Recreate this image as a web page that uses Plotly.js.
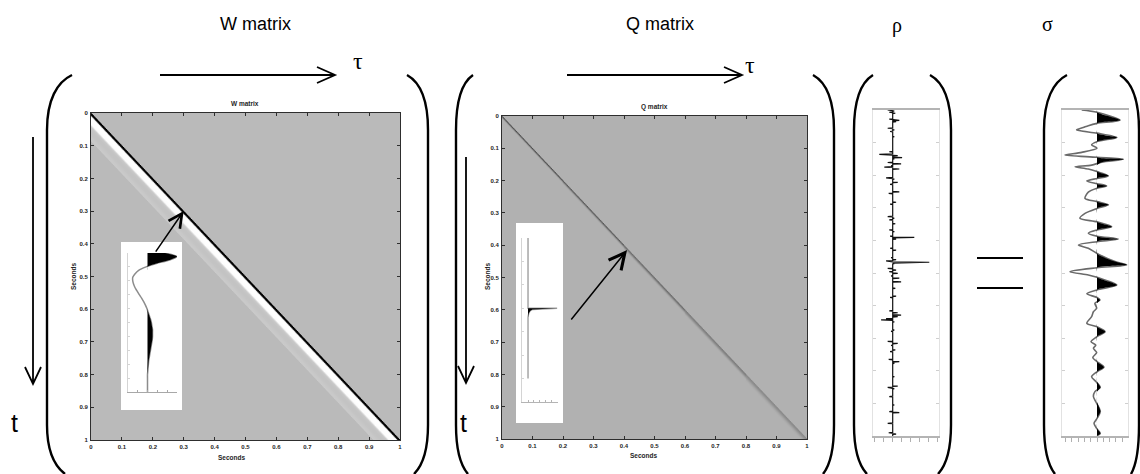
<!DOCTYPE html>
<html>
<head>
<meta charset="utf-8">
<script src="https://cdn.plot.ly/plotly-3.0.1.min.js"></script>
<style>
  html, body { margin: 0; padding: 0; background: #ffffff; }
  #chart { width: 1140px; height: 474px; }
</style>
</head>
<body>
<div id="chart"></div>
<script>
// ---------- data ----------
// sample interval of the operators (s)
const dt = 0.0025;

// source wavelet w(lag), sampled every dt from lag 0
const waveletAmp = [0.6, 1.0, 0.75, 0.3, -0.05, -0.3, -0.42, -0.5, -0.5, -0.47,
  -0.42, -0.35, -0.28, -0.2, -0.13, -0.07, -0.02, 0.02, 0.06, 0.1,
  0.13, 0.15, 0.17, 0.17, 0.17, 0.16, 0.14, 0.12, 0.1, 0.08,
  0.06, 0.04, 0.03, 0.02, 0.01, 0, 0, 0, 0, 0, 0];

// attenuation (Q) kernels, one per band of source time tau
const qBandStart = [0, 0.2, 0.4, 0.6, 0.8];
const qKernel0 = [1.0, 0.75, 0.3, 0.08];
const qKernel1 = [0.85, 0.7, 0.4, 0.15, 0.05];
const qKernel2 = [0.65, 0.6, 0.45, 0.25, 0.12, 0.04];
const qKernel3 = [0.5, 0.48, 0.4, 0.3, 0.2, 0.1, 0.04];
const qKernel4 = [0.38, 0.37, 0.33, 0.27, 0.2, 0.14, 0.09, 0.05, 0.02];

// one column of Q: attenuated impulse
const qImpulseTime = [0, 0.6, 0.6, 0.605, 0.61, 0.62, 0.63, 0.64, 0.66, 0.68, 1.2];
const qImpulseAmp  = [0, 0, 1.0, 0.35, 0.15, 0.08, 0.05, 0.03, 0.01, 0, 0];

// reflectivity rho(t)
const rhoTime = [0.000, 0.003, 0.007, 0.010, 0.028, 0.032, 0.036, 0.056, 0.061, 0.066,
  0.082, 0.128, 0.136, 0.140, 0.146, 0.150, 0.161, 0.165, 0.171, 0.175,
  0.181, 0.208, 0.212, 0.222, 0.228, 0.251, 0.256, 0.283, 0.289, 0.327,
  0.332, 0.337, 0.349, 0.368, 0.373, 0.387, 0.391, 0.396, 0.424, 0.430,
  0.453, 0.459, 0.463, 0.467, 0.471, 0.486, 0.491, 0.496, 0.501, 0.509,
  0.516, 0.527, 0.547, 0.571, 0.575, 0.616, 0.622, 0.629, 0.634, 0.640,
  0.644, 0.650, 0.675, 0.679, 0.710, 0.716, 0.722, 0.736, 0.741, 0.765,
  0.772, 0.777, 0.818, 0.847, 0.851, 0.855, 0.879, 0.905, 0.925, 0.928,
  0.961, 0.990, 0.994];
const rhoAmp = [-0.25, 0.08, -0.17, 0.13, -0.17, 0.33, 0.17, -0.25, 0.08, -0.13,
  0.08, -0.17, -0.67, 0.25, 0.47, 0.08, -0.25, 0.42, -0.08, -0.42,
  0.33, -0.33, 0.08, 0.25, -0.13, 0.33, -0.2, 0.17, -0.13, -0.25,
  0.08, -0.17, 0.13, -0.17, 0.08, -0.13, 1.08, 0.17, -0.13, 0.17,
  -0.08, 0.17, -0.33, 1.83, 0.08, -0.25, 0.17, -0.17, 0.25, -0.08,
  0.33, 0.42, 0.13, 0.17, -0.13, -0.17, 0.25, 0.42, 0.25, -0.33,
  -0.58, 0.08, 0.08, -0.08, -0.25, 0.25, -0.08, 0.13, -0.13, -0.2,
  0.33, 0.08, 0.08, 0.25, -0.25, 0.08, -0.17, 0.08, -0.17, 0.33,
  -0.25, -0.2, 0.17];

// seismic trace sigma(t)
const sigmaTime = [0.000, 0.007, 0.031, 0.041, 0.048, 0.054, 0.061, 0.071, 0.084, 0.097,
  0.107, 0.117, 0.130, 0.138, 0.145, 0.151, 0.160, 0.169, 0.174, 0.181,
  0.189, 0.202, 0.210, 0.218, 0.226, 0.233, 0.240, 0.252, 0.271, 0.281,
  0.291, 0.302, 0.317, 0.332, 0.343, 0.358, 0.368, 0.378, 0.387, 0.396,
  0.404, 0.414, 0.424, 0.440, 0.465, 0.475, 0.484, 0.496, 0.506, 0.513,
  0.537, 0.552, 0.564, 0.575, 0.583, 0.593, 0.608, 0.619, 0.634, 0.654,
  0.665, 0.680, 0.695, 0.711, 0.721, 0.731, 0.744, 0.759, 0.772, 0.789,
  0.803, 0.818, 0.833, 0.851, 0.864, 0.879, 0.895, 0.925, 0.946, 0.961,
  0.976, 0.992, 0.999];
const sigmaAmp = [-0.51, 0, 0.77, 0, -0.29, -0.46, -0.68, 0, 0.66, 0,
  -0.18, 0, -0.51, -1.07, 0, 0.88, 0.16, -0.18, -0.73, -0.29,
  0, 0.38, 0, -0.34, 0, 0.32, 0, -0.29, -0.4, 0,
  0.38, 0, -0.4, -0.57, 0, 0.49, 0, -0.29, 0, 0.71,
  0, -0.62, -0.29, 0, 0.6, 0.99, 0, -0.9, -0.29, 0,
  0.66, 0, -0.34, 0, 0.1, -0.07, -0.01, -0.12, -0.18, -0.34,
  0, 0.27, 0, -0.2, -0.04, -0.12, -0.01, -0.14, 0, 0.23,
  0, -0.18, -0.04, 0.11, -0.07, -0.12, -0.04, 0.11, 0, -0.1,
  -0.02, 0.11, 0];

// ---------- build matrices ----------
const nGrid = Math.round(1 / dt) + 1;
const grid = Array.from({ length: nGrid }, (_, i) => +(i * dt).toFixed(4));
const qKernels = [qKernel0, qKernel1, qKernel2, qKernel3, qKernel4];

// W[t][tau] = w(t - tau)
const wZ = grid.map((t, i) => grid.map((tau, j) => {
  const k = i - j;
  return (k >= 0 && k < waveletAmp.length) ? waveletAmp[k] : 0;
}));

// Q[t][tau] = kernel of the tau band, evaluated at t - tau
const bandOf = tau => { let b = 0; qBandStart.forEach((s, i) => { if (tau >= s) b = i; }); return b; };
const colKernel = grid.map(tau => qKernels[bandOf(tau)]);
const qZ = grid.map((t, i) => grid.map((tau, j) => {
  const k = i - j, ker = colKernel[j];
  return (k >= 0 && k < ker.length) ? ker[k] : 0;
}));

// wavelet lags for the inset
const waveletLag = waveletAmp.map((_, k) => +(k * dt).toFixed(4));
const positive = a => a.map(v => Math.max(0, v));

// reflectivity drawn as horizontal strokes off a baseline
const rhoX = [0], rhoY = [0];
const half = 0.0012;
rhoTime.forEach((t, i) => {
  rhoX.push(0, rhoAmp[i], 0);
  rhoY.push(t - half, t, t + half);
});
rhoX.push(0); rhoY.push(1);

// ---------- page geometry (pixels -> paper) ----------
const W = 1140, H = 474;
const fx = px => px / W;
const fy = py => 1 - py / H;
const domX = (a, b) => [fx(a), fx(b)];
const domY = (top, bottom) => [fy(bottom), fy(top)];
const pt = (x, y) => fx(x).toFixed(5) + ',' + fy(y).toFixed(5);

const sans = 'Liberation Sans, Arial, sans-serif';
const serif = 'Liberation Serif, Times New Roman, serif';
const tickFont = { family: sans, size: 6, color: '#1e1e1e', weight: 'bold' };

function matrixAxis(domain, anchor, isY) {
  return {
    domain: domain, anchor: anchor, range: isY ? [1, 0] : [0, 1],
    showline: true, linecolor: '#2e2e2e', linewidth: 1, mirror: 'ticks',
    ticks: 'inside', ticklen: 3, tickcolor: '#2e2e2e', tickwidth: 1,
    tick0: 0, dtick: 0.1, tickfont: tickFont, ticklabelstandoff: 1,
    showgrid: false, zeroline: false, fixedrange: true
  };
}
function traceXAxis(domain, anchor, range, dtick) {
  return {
    domain: domain, anchor: anchor, range: range,
    showline: true, mirror: true, linecolor: '#b4b4b4', linewidth: 2,
    ticks: 'outside', ticklen: 4, tickcolor: '#b0b0b0', tickwidth: 1,
    tick0: 0, dtick: dtick, showticklabels: false,
    showgrid: false, zeroline: false, fixedrange: true
  };
}
function traceYAxis(domain, anchor) {
  return {
    domain: domain, anchor: anchor, range: [1, 0],
    showline: true, mirror: 'ticks', linecolor: '#e2e2e2', linewidth: 1,
    ticks: 'inside', ticklen: 3, tickcolor: '#cfcfcf', tickwidth: 1,
    tick0: 0, dtick: 0.1, showticklabels: false,
    showgrid: false, zeroline: false, fixedrange: true
  };
}
function blankAxis(domain, anchor) {
  return { domain: domain, anchor: anchor, range: [-0.5, 0.5], visible: false, fixedrange: true };
}
function insetAxis(domain, anchor, range, tick0, dtick, color) {
  return {
    domain: domain, anchor: anchor, range: range,
    showline: true, linecolor: color, linewidth: 1,
    ticks: 'inside', ticklen: 2, tickcolor: color, tickwidth: 1,
    tick0: tick0, dtick: dtick, showticklabels: false,
    showgrid: false, zeroline: false, fixedrange: true
  };
}

// ---------- traces ----------
const wScale = [[0, '#ffffff'], [0.25, '#fcfcfc'], [0.325, '#d6d6d6'], [0.3333, '#bababa'],
                [0.34, '#cacaca'], [0.45, '#c3c3c3'], [0.5, '#707070'],
                [0.5667, '#000000'], [1, '#000000']];
const qScale = [[0, '#b1b1b1'], [1, '#4a4a4a']];
const whiteScale = [[0, '#ffffff'], [1, '#ffffff']];

const traces = [
  { type: 'heatmap', x: grid, y: grid, z: wZ, zmin: -0.5, zmax: 1, colorscale: wScale,
    showscale: false, zsmooth: 'fast', hoverinfo: 'skip', xaxis: 'x', yaxis: 'y' },
  { type: 'heatmap', x: grid, y: grid, z: qZ, zmin: 0, zmax: 1, colorscale: qScale,
    showscale: false, zsmooth: 'fast', hoverinfo: 'skip', xaxis: 'x2', yaxis: 'y2' },
  { type: 'scatter', mode: 'lines', x: rhoX, y: rhoY, line: { color: '#111111', width: 1.2 },
    hoverinfo: 'skip', xaxis: 'x3', yaxis: 'y3' },
  { type: 'scatter', mode: 'lines', x: sigmaAmp, y: sigmaTime,
    line: { color: '#6a6a6a', width: 1.6, shape: 'spline', smoothing: 0.8 },
    hoverinfo: 'skip', xaxis: 'x4', yaxis: 'y4' },
  { type: 'scatter', mode: 'lines', x: positive(sigmaAmp), y: sigmaTime,
    line: { color: '#000000', width: 0, shape: 'spline', smoothing: 0.8 },
    fill: 'tozerox', fillcolor: '#000000', hoverinfo: 'skip', xaxis: 'x4', yaxis: 'y4' },
  { type: 'heatmap', x: [0], y: [0], z: [[1]], colorscale: whiteScale, showscale: false,
    hoverinfo: 'skip', xaxis: 'x5', yaxis: 'y5' },
  { type: 'scatter', mode: 'lines', x: waveletAmp, y: waveletLag,
    line: { color: '#8c8c8c', width: 1.5, shape: 'spline', smoothing: 0.6 },
    hoverinfo: 'skip', xaxis: 'x6', yaxis: 'y6' },
  { type: 'scatter', mode: 'lines', x: positive(waveletAmp), y: waveletLag,
    line: { color: '#000000', width: 0, shape: 'spline', smoothing: 0.6 },
    fill: 'tozerox', fillcolor: '#000000', hoverinfo: 'skip', xaxis: 'x6', yaxis: 'y6' },
  { type: 'heatmap', x: [0], y: [0], z: [[1]], colorscale: whiteScale, showscale: false,
    hoverinfo: 'skip', xaxis: 'x7', yaxis: 'y7' },
  { type: 'scatter', mode: 'lines', x: qImpulseAmp, y: qImpulseTime,
    line: { color: '#a0a0a0', width: 1.4 }, hoverinfo: 'skip', xaxis: 'x8', yaxis: 'y8' },
  { type: 'scatter', mode: 'lines', x: qImpulseAmp, y: qImpulseTime,
    line: { color: '#000000', width: 0 }, fill: 'tozerox', fillcolor: '#000000',
    hoverinfo: 'skip', xaxis: 'x8', yaxis: 'y8' }
];

// ---------- decorations ----------
const stroke = (w) => ({ color: '#000000', width: w });
const pathShape = (d, w) => ({ type: 'path', xref: 'paper', yref: 'paper', layer: 'above',
  path: d, line: stroke(w), fillcolor: 'rgba(0,0,0,0)' });

const paren = (xTop, xV, xBot) =>
  'M' + pt(xTop, 75) + ' C' + pt(xV + (xTop - xV) * 0.4, 82) + ' ' + pt(xV, 100) + ' ' + pt(xV, 130) +
  ' L' + pt(xV, 425) + ' C' + pt(xV, 450) + ' ' + pt(xV + (xBot - xV) * 0.35, 465) + ' ' + pt(xBot, 474);

const hArrow = (x0, x1, y) => 'M' + pt(x0, y) + ' L' + pt(x1, y) +
  ' M' + pt(x1 - 18, y - 8) + ' L' + pt(x1, y) + ' L' + pt(x1 - 18, y + 8);
const vArrow = (x, y0, y1) => 'M' + pt(x, y0) + ' L' + pt(x, y1) +
  ' M' + pt(x - 8, y1 - 17) + ' L' + pt(x, y1) + ' L' + pt(x + 8, y1 - 17);

const shapes = [
  pathShape(paren(72, 47, 65), 2.4),
  pathShape(paren(407, 428, 414), 2.4),
  pathShape(paren(473, 456, 468), 2.4),
  pathShape(paren(813, 834, 823), 2.4),
  pathShape(paren(873, 854, 867), 2.4),
  pathShape(paren(930, 951, 938), 2.4),
  pathShape(paren(1067, 1044, 1055), 2.4),
  pathShape(paren(1120, 1139, 1131), 2.4),
  pathShape(hArrow(160, 335, 75), 1.8),
  pathShape(hArrow(567, 742, 75), 1.8),
  pathShape(vArrow(33, 137, 384), 1.8),
  pathShape(vArrow(466, 157, 383), 1.8),
  pathShape('M' + pt(977, 258) + ' L' + pt(1023, 258), 2),
  pathShape('M' + pt(977, 288) + ' L' + pt(1023, 288), 2)
];

const label = (text, x, y, size, family, extra) => Object.assign({
  text: text, x: fx(x), y: fy(y), xref: 'paper', yref: 'paper', showarrow: false,
  xanchor: 'center', yanchor: 'middle', font: { family: family, size: size, color: '#000000' }
}, extra || {});
const smallBold = { family: sans, size: 6.5, color: '#1e1e1e', weight: 'bold' };

const annotations = [
  label('W matrix', 255, 24, 18, sans),
  label('Q matrix', 660, 24, 18, sans),
  label('ρ', 897, 25, 20, serif),
  label('σ', 1047, 24, 20, serif),
  label('τ', 358, 61, 24, serif),
  label('τ', 750, 65, 24, serif),
  label('t', 14, 423, 25, sans),
  label('t', 463, 423, 25, sans),
  Object.assign(label('W matrix', 245, 103, 6.5, sans), { font: smallBold }),
  Object.assign(label('Q matrix', 654, 107, 6.5, sans), { font: smallBold }),
  Object.assign(label('Seconds', 231, 457, 6.5, sans), { font: smallBold }),
  Object.assign(label('Seconds', 643, 455, 6.5, sans), { font: smallBold }),
  Object.assign(label('Seconds', 73, 277, 6.5, sans), { font: smallBold, textangle: -90 }),
  Object.assign(label('Seconds', 487, 277, 6.5, sans), { font: smallBold, textangle: -90 }),
  { x: 0.3, y: 0.3, xref: 'x', yref: 'y', text: '', showarrow: true, ax: -29, ay: 42,
    arrowhead: 5, arrowsize: 1.8, arrowwidth: 1.5, arrowcolor: '#000000' },
  { x: 0.41, y: 0.415, xref: 'x2', yref: 'y2', text: '', showarrow: true, ax: -57, ay: 71,
    arrowhead: 5, arrowsize: 2.1, arrowwidth: 1.5, arrowcolor: '#000000' }
];

const layout = {
  width: W, height: H,
  margin: { l: 0, r: 0, t: 0, b: 0 },
  paper_bgcolor: '#ffffff', plot_bgcolor: '#ffffff',
  showlegend: false,
  xaxis: matrixAxis(domX(91, 400), 'y', false),
  yaxis: matrixAxis(domY(113, 440), 'x', true),
  xaxis2: matrixAxis(domX(502, 807), 'y2', false),
  yaxis2: matrixAxis(domY(116, 439), 'x2', true),
  xaxis3: traceXAxis(domX(873, 939), 'y3', [-0.985, 2.315], 0.45),
  yaxis3: traceYAxis(domY(110, 436), 'x3'),
  xaxis4: traceXAxis(domX(1062, 1128), 'y4', [-1.167, 1.033], 0.21),
  yaxis4: traceYAxis(domY(110, 436), 'x4'),
  xaxis5: blankAxis(domX(121, 182), 'y5'),
  yaxis5: blankAxis(domY(242, 410), 'x5'),
  xaxis6: insetAxis(domX(128, 177), 'y6', [-0.661, 1.0], -0.661, 0.332, '#a8a8a8'),
  yaxis6: insetAxis(domY(253, 392), 'x6', [0.1, 0], 0, 0.01, '#d4d4d4'),
  xaxis7: blankAxis(domX(516, 563), 'y7'),
  yaxis7: blankAxis(domY(223, 423), 'x7'),
  xaxis8: insetAxis(domX(522, 558), 'y8', [-0.207, 1.03], -0.207, 0.206, '#b4b4b4'),
  yaxis8: insetAxis(domY(238, 402), 'x8', [1.4, 0], 0, 0.2, '#d4d4d4'),
  shapes: shapes,
  annotations: annotations
};

Plotly.newPlot('chart', traces, layout, { staticPlot: true, displayModeBar: false });
</script>
</body>
</html>
